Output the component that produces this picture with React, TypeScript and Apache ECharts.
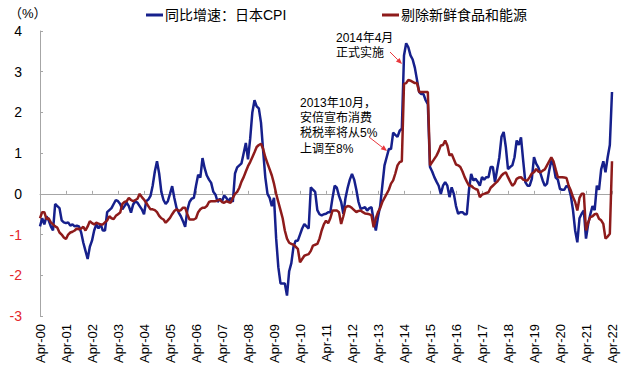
import React, { useEffect, useRef } from "react";
import * as echarts from "echarts";

// Monthly data, Apr-2000 .. Apr-2022 (265 months)
const startYear = 2000;
const startMonth = 4; // April
const monthNames = ["Jan", "Feb", "Mar", "Apr", "May", "Jun", "Jul", "Aug", "Sep", "Oct", "Nov", "Dec"];

// 同比增速：日本CPI (%)
const cpiHeadline = [
  -0.8, -0.6, -0.75, -0.55, -0.65, -0.8, -0.9, -0.25, -0.3, // 2000 Apr-Dec
  -0.35, -0.65, -0.7, -0.72, -0.7, -0.78, -0.75, -0.8, -0.78, -0.8, -0.95, -1.2, // 2001
  -1.4, -1.6, -1.3, -1.15, -0.9, -0.75, -0.85, -0.75, -0.9, -0.9, -0.45, -0.4, // 2002
  -0.35, -0.25, -0.15, -0.18, -0.25, -0.38, -0.3, -0.22, -0.3, -0.46, -0.26, -0.18, // 2003
  -0.22, -0.3, -0.38, -0.5, -0.18, -0.14, -0.05, 0.2, 0.55, 0.8, 0.5, 0.05, // 2004
  -0.15, -0.25, -0.18, 0.0, 0.19, -0.1, -0.34, -0.46, -0.55, -0.67, -0.81, -0.4, // 2005
  -0.2, -0.12, -0.1, 0.2, 0.47, 0.4, 0.88, 0.63, 0.45, 0.35, 0.27, 0.05, // 2006
  -0.02, -0.2, -0.12, -0.18, -0.04, -0.1, -0.18, -0.1, -0.2, 0.5, 0.65, 0.7, // 2007
  0.75, 1.0, 1.25, 0.85, 1.35, 2.0, 2.3, 2.15, 2.1, 1.75, 1.05, 0.4, // 2008
  0.0, -0.1, -0.3, -0.1, -1.1, -1.8, -2.2, -2.2, -2.2, -2.5, -1.9, -1.7, // 2009
  -1.3, -1.15, -1.15, -1.0, -0.85, -0.74, -0.8, -0.85, 0.16, 0.1, 0.05, -0.4, // 2010
  -0.5, -0.53, -0.5, -0.49, -0.45, -0.45, -0.1, 0.2, 0.15, -0.05, -0.2, -0.49, // 2011
  -0.1, 0.15, 0.35, 0.49, 0.35, 0.1, -0.2, -0.37, -0.35, -0.33, -0.41, -0.35, // 2012
  -0.33, -0.66, -0.9, -0.57, -0.3, 0.2, 0.7, 0.9, 1.1, 1.1, 1.5, 1.45, // 2013
  1.4, 1.55, 1.6, 3.4, 3.7, 3.6, 3.4, 3.3, 3.1, 2.8, 2.5, 2.45, // 2014
  2.45, 2.3, 2.2, 0.66, 0.55, 0.41, 0.3, 0.2, 0.0, 0.2, 0.29, 0.2, // 2015
  -0.08, 0.16, 0.0, -0.3, -0.49, -0.45, -0.45, -0.5, -0.5, 0.1, 0.49, 0.33, // 2016
  0.37, 0.3, 0.2, 0.41, 0.35, 0.41, 0.41, 0.66, 0.66, 0.29, 0.6, 0.9, // 2017
  1.4, 1.52, 1.15, 0.61, 0.66, 0.7, 0.9, 1.31, 1.2, 1.39, 0.82, 0.29, // 2018
  0.2, 0.2, 0.37, 0.9, 0.74, 0.65, 0.5, 0.33, 0.2, 0.25, 0.57, 0.82, // 2019
  0.7, 0.4, 0.35, 0.12, 0.1, 0.1, 0.2, 0.16, -0.05, -0.4, -0.9, -1.19, // 2020
  -0.6, -0.49, -0.41, -1.1, -0.74, -0.5, -0.3, -0.4, 0.2, 0.1, 0.6, 0.8, // 2021
  0.53, 0.9, 1.2, 2.5, // 2022 Jan-Apr
];

// 剔除新鲜食品和能源 (%)
const cpiExFoodEnergy = [
  -0.6, -0.45, -0.45, -0.62, -0.6, -0.7, -0.75, -0.8, -0.83, // 2000 Apr-Dec
  -0.95, -1.0, -1.07, -1.11, -1.0, -0.95, -0.93, -0.9, -0.85, -0.87, -0.85, -0.81, // 2001
  -0.9, -0.8, -0.67, -0.72, -0.75, -0.71, -0.73, -0.75, -0.75, -0.7, -0.65, -0.55, // 2002
  -0.6, -0.62, -0.54, -0.5, -0.46, -0.25, -0.2, -0.18, -0.1, -0.15, -0.18, -0.15, // 2003
  -0.12, 0.0, -0.08, -0.14, -0.22, -0.3, -0.38, -0.38, -0.4, -0.45, -0.54, -0.6, // 2004
  -0.63, -0.71, -0.65, -0.59, -0.5, -0.42, -0.38, -0.42, -0.4, -0.34, -0.34, -0.5, // 2005
  -0.63, -0.63, -0.63, -0.6, -0.45, -0.38, -0.34, -0.34, -0.3, -0.2, -0.18, -0.18, // 2006
  -0.18, -0.16, -0.14, -0.2, -0.22, -0.18, -0.2, -0.22, -0.1, 0.0, 0.05, 0.15, // 2007
  0.3, 0.41, 0.55, 0.68, 0.78, 0.9, 1.02, 1.15, 1.2, 1.23, 1.1, 0.9, // 2008
  0.75, 0.6, 0.45, 0.25, 0.0, -0.2, -0.4, -0.6, -0.9, -1.1, -1.2, -1.23, // 2009
  -1.25, -1.3, -1.35, -1.68, -1.6, -1.52, -1.5, -1.48, -1.4, -1.27, -1.25, -1.23, // 2010
  -1.1, -0.9, -0.75, -0.66, -0.72, -0.6, -0.41, -0.41, -0.41, -0.45, -0.74, -0.55, // 2011
  -0.33, -0.3, -0.31, -0.35, -0.4, -0.45, -0.42, -0.41, -0.45, -0.48, -0.49, -0.5, // 2012
  -0.53, -0.82, -0.6, -0.45, -0.35, -0.2, -0.1, 0.0, 0.1, 0.25, 0.33, 0.5, // 2013
  0.7, 0.78, 0.8, 2.7, 2.72, 2.8, 2.78, 2.75, 2.72, 2.72, 2.5, 2.5, // 2014
  2.5, 2.5, 2.5, 0.7, 0.78, 0.86, 0.94, 1.05, 1.19, 1.2, 1.31, 1.19, // 2015
  0.94, 0.98, 0.85, 0.72, 0.7, 0.66, 0.55, 0.41, 0.3, 0.2, 0.2, 0.15, // 2016
  0.12, 0.1, -0.08, -0.02, 0.0, 0.02, 0.04, 0.15, 0.2, 0.25, 0.3, 0.37, // 2017
  0.45, 0.5, 0.53, 0.41, 0.3, 0.2, 0.25, 0.37, 0.4, 0.41, 0.35, 0.33, // 2018
  0.33, 0.41, 0.5, 0.53, 0.61, 0.55, 0.53, 0.57, 0.6, 0.7, 0.8, 0.9, // 2019
  0.8, 0.6, 0.41, 0.41, 0.41, 0.4, 0.39, 0.2, 0.08, -0.08, -0.2, -0.41, // 2020
  -0.1, 0.0, 0.0, -0.9, -0.7, -0.57, -0.55, -0.5, -0.49, -0.61, -0.65, -0.74, // 2021
  -1.1, -1.05, -0.98, 0.8, // 2022 Jan-Apr
];

const seriesNames = ["同比增速：日本CPI", "剔除新鲜食品和能源"];
const yMin = -3;
const yMax = 4;
const yInterval = 1;
const annotationTop = "2014年4月\n正式实施";
const annotationLeft = "2013年10月，\n安倍宣布消费\n税税率将从5%\n上调至8%";

const categories = cpiHeadline.map((_, i) => {
  const mi = startMonth - 1 + i;
  const y = startYear + Math.floor(mi / 12);
  return `${monthNames[mi % 12]}-${String(y % 100).padStart(2, "0")}`;
});

const BLUE = "#16208C";
const RED = "#8E1B1B";
const ARROW = "#E8383D";
const CJK = "'Liberation Sans', 'Noto Sans CJK SC', sans-serif";

function arrow(x1: number, y1: number, x2: number, y2: number) {
  const dx = x2 - x1;
  const dy = y2 - y1;
  const len = Math.sqrt(dx * dx + dy * dy);
  const ux = dx / len;
  const uy = dy / len;
  const px = -uy;
  const py = ux;
  const hl = 6;
  const hw = 2.6;
  const bx = x2 - ux * hl;
  const by = y2 - uy * hl;
  return [
    {
      type: "line",
      shape: { x1, y1, x2: bx, y2: by },
      style: { stroke: ARROW, lineWidth: 1 },
      silent: true,
    },
    {
      type: "polygon",
      shape: {
        points: [
          [x2, y2],
          [bx + px * hw, by + py * hw],
          [bx - px * hw, by - py * hw],
        ],
      },
      style: { fill: ARROW },
      silent: true,
    },
  ];
}

export default function App() {
  const ref = useRef<HTMLDivElement>(null);

  useEffect(() => {
    document.body.style.margin = "0";
    if (!ref.current) return;
    const chart = echarts.init(ref.current, undefined, { renderer: "svg" });
    chart.setOption({
      animation: false,
      backgroundColor: "#ffffff",
      grid: { left: 40, right: 28, top: 31, bottom: 58, containLabel: false },
      legend: [
        {
          data: [seriesNames[0]],
          left: 146,
          top: 8,
          padding: 0,
          icon: "rect",
          itemWidth: 17,
          itemHeight: 3,
          textStyle: { fontSize: 14, color: "#000", fontFamily: CJK, padding: [0, 0, 0, -3] },
        },
        {
          data: [seriesNames[1]],
          left: 382,
          top: 8,
          padding: 0,
          icon: "rect",
          itemWidth: 17,
          itemHeight: 3,
          textStyle: { fontSize: 14, color: "#000", fontFamily: CJK, padding: [0, 0, 0, -3] },
        },
      ],
      xAxis: [
        {
          type: "category",
          data: categories,
          boundaryGap: false,
          position: "bottom",
          axisLine: { show: false, onZero: false },
          axisTick: { show: false },
          axisLabel: {
            rotate: 90,
            interval: (index: number) => index % 12 === 0,
            margin: 8,
            fontSize: 13,
            color: "#000",
            fontFamily: "'Liberation Sans', Arial, sans-serif",
          },
          splitLine: { show: false },
        },
        {
          type: "category",
          data: categories,
          boundaryGap: false,
          position: "bottom",
          axisLine: { show: true, onZero: true, lineStyle: { color: "#A6A6A6", width: 1 } },
          axisTick: {
            show: true,
            inside: true,
            length: 3,
            interval: (index: number) => index % 12 === 0,
            lineStyle: { color: "#A6A6A6" },
          },
          axisLabel: { show: false },
          splitLine: { show: false },
        },
      ],
      yAxis: {
        type: "value",
        min: yMin,
        max: yMax,
        interval: yInterval,
        axisLine: { show: true, lineStyle: { color: "#A6A6A6", width: 1 } },
        axisTick: { show: true, inside: true, length: 3, lineStyle: { color: "#A6A6A6" } },
        axisLabel: {
          margin: 18,
          fontSize: 14,
          fontFamily: "'Liberation Sans', Arial, sans-serif",
          color: (val: any) => (Number(val) < 0 ? "#E4262B" : "#000000"),
        },
        splitLine: { show: false },
      },
      series: [
        {
          name: seriesNames[0],
          type: "line",
          data: cpiHeadline,
          xAxisIndex: 0,
          showSymbol: false,
          symbol: "none",
          lineStyle: { color: BLUE, width: 2.5 },
          itemStyle: { color: BLUE },
          z: 3,
        },
        {
          name: seriesNames[1],
          type: "line",
          data: cpiExFoodEnergy,
          xAxisIndex: 0,
          showSymbol: false,
          symbol: "none",
          lineStyle: { color: RED, width: 2.5 },
          itemStyle: { color: RED },
          z: 4,
        },
      ],
      graphic: [
        {
          type: "text",
          left: 9,
          top: 7,
          style: { text: "（%）", fontSize: 13, fill: "#000", fontFamily: CJK },
        },
        {
          type: "text",
          x: 336,
          y: 30,
          style: { text: annotationTop, fontSize: 12, lineHeight: 15, fill: "#000", fontFamily: CJK },
        },
        {
          type: "text",
          x: 300,
          y: 95,
          style: { text: annotationLeft, fontSize: 12, lineHeight: 15.3, fill: "#000", fontFamily: CJK },
        },
        ...arrow(390, 52, 402, 64),
        ...arrow(369, 137, 387, 151),
      ],
    });
    return () => chart.dispose();
  }, []);

  return <div ref={ref} style={{ width: 640, height: 374 }} />;
}
